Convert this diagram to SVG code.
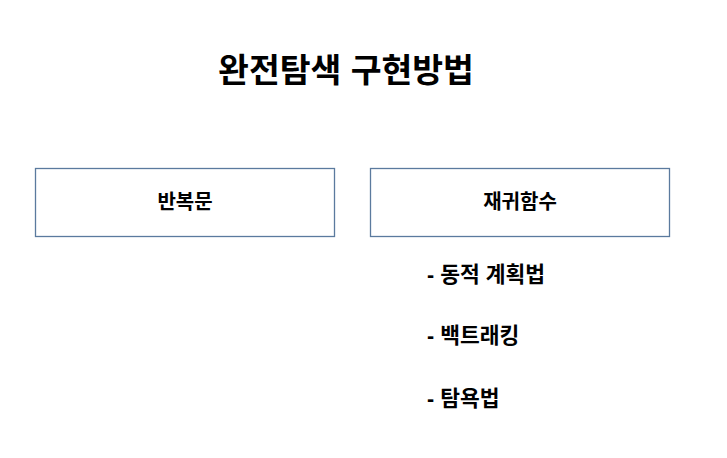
<svg xmlns="http://www.w3.org/2000/svg" width="727" height="458" viewBox="0 0 727 458">
<style>
text{font-family:"Liberation Sans","Noto Sans CJK KR",sans-serif;fill:#000;}
.title{font-size:33.5px;font-weight:bold;}
.box{fill:#fff;stroke:#5b7a9e;stroke-width:1.3;}
.lbl{font-size:20px;font-weight:bold;text-anchor:middle;}
.item{font-size:21.5px;font-weight:bold;}
</style>
<rect width="727" height="458" fill="#fff"/>
<text class="title" x="346" y="82" text-anchor="middle">완전탐색 구현방법</text>
<g id="node-loop">
<rect class="box" x="35.5" y="168.5" width="299" height="68"/>
<text class="lbl" x="185" y="209">반복문</text>
</g>
<g id="node-recursion">
<rect class="box" x="370.5" y="168.5" width="299" height="68"/>
<text class="lbl" x="520" y="209">재귀함수</text>
</g>
<g id="connectors"></g>
<g id="list">
<text class="item" x="427" y="282">- 동적 계획법</text>
<text class="item" x="427" y="343">- 백트래킹</text>
<text class="item" x="427" y="406">- 탐욕법</text>
</g>
</svg>
